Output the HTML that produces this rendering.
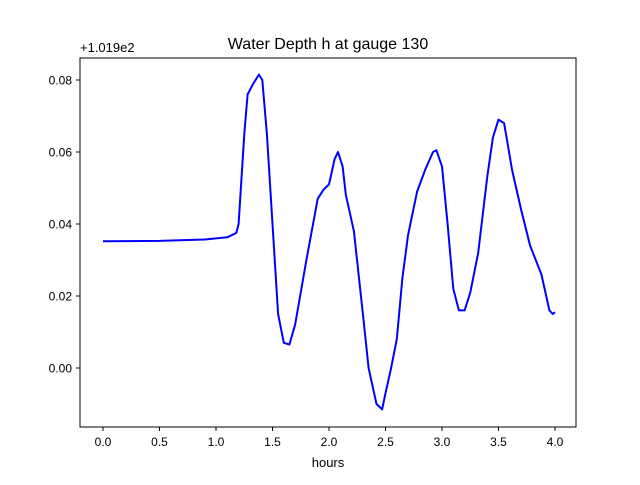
<!DOCTYPE html>
<html><head><meta charset="utf-8"><style>
body{margin:0;background:#fff;}
svg text{font-family:"Liberation Sans","DejaVu Sans",sans-serif;fill:#000;}
</style></head><body>
<svg width="640" height="480" viewBox="0 0 640 480">
<rect width="640" height="480" fill="#fff"/>
<text x="328" y="49" font-size="16" text-anchor="middle">Water Depth h at gauge 130</text>
<text x="80" y="52" font-size="13">+1.019e2</text>
<g id="ticks"></g>
<polyline id="line" fill="none" stroke="#0000ff" stroke-width="2" stroke-linejoin="round"/>
<rect x="80" y="58" width="496" height="369" fill="none" stroke="#000" stroke-width="1"/>
<text x="328" y="467" font-size="13" text-anchor="middle">hours</text>
</svg>
<script>
const hours=[0,0.5,0.9,1.1,1.18,1.2,1.25,1.28,1.33,1.38,1.41,1.45,1.5,1.55,1.6,1.65,1.7,1.8,1.9,1.95,2.0,2.05,2.08,2.12,2.15,2.22,2.3,2.35,2.42,2.47,2.5,2.55,2.6,2.65,2.7,2.78,2.85,2.92,2.95,3.0,3.05,3.1,3.15,3.2,3.25,3.32,3.4,3.45,3.5,3.55,3.62,3.7,3.78,3.88,3.95,3.98,4.0];
const depth=[0.0352,0.0353,0.0357,0.0363,0.0375,0.040,0.065,0.076,0.079,0.0815,0.080,0.065,0.040,0.015,0.007,0.0065,0.012,0.030,0.047,0.0495,0.051,0.058,0.060,0.056,0.048,0.038,0.015,0.000,-0.010,-0.0115,-0.007,0.000,0.008,0.025,0.037,0.049,0.055,0.060,0.0605,0.056,0.040,0.022,0.016,0.016,0.021,0.032,0.053,0.064,0.069,0.068,0.055,0.044,0.034,0.026,0.016,0.015,0.0155];
const xTicks=[0,0.5,1,1.5,2,2.5,3,3.5,4];
const yTicks=[0,0.02,0.04,0.06,0.08];
const X=v=>103+v*113;
const Y=v=>368-v*3600;
const ns="http://www.w3.org/2000/svg";
document.getElementById('line').setAttribute('points',hours.map((h,i)=>X(h).toFixed(1)+','+Y(depth[i]).toFixed(1)).join(' '));
const g=document.getElementById('ticks');
xTicks.forEach(t=>{
 const l=document.createElementNS(ns,'line');
 
 
 l.setAttribute('x1',X(t));l.setAttribute('x2',X(t));l.setAttribute('y1',427);l.setAttribute('y2',431);l.setAttribute('stroke','#000');
 g.appendChild(l);
 const tx=document.createElementNS(ns,'text');
 
 
 tx.setAttribute('x',X(t));tx.setAttribute('y',446);tx.setAttribute('font-size','12');tx.setAttribute('text-anchor','middle');
 tx.textContent=t.toFixed(1);g.appendChild(tx);
});
yTicks.forEach(t=>{
 const l=document.createElementNS(ns,'line');
 
 
 l.setAttribute('x1',76);l.setAttribute('x2',80);l.setAttribute('y1',Y(t));l.setAttribute('y2',Y(t));l.setAttribute('stroke','#000');
 g.appendChild(l);
 const tx=document.createElementNS(ns,'text');
 
 
 tx.setAttribute('x',72);tx.setAttribute('y',Y(t)+4.5);tx.setAttribute('font-size','12');tx.setAttribute('text-anchor','end');
 tx.textContent=t.toFixed(2);g.appendChild(tx);
});
</script>
</body></html>
